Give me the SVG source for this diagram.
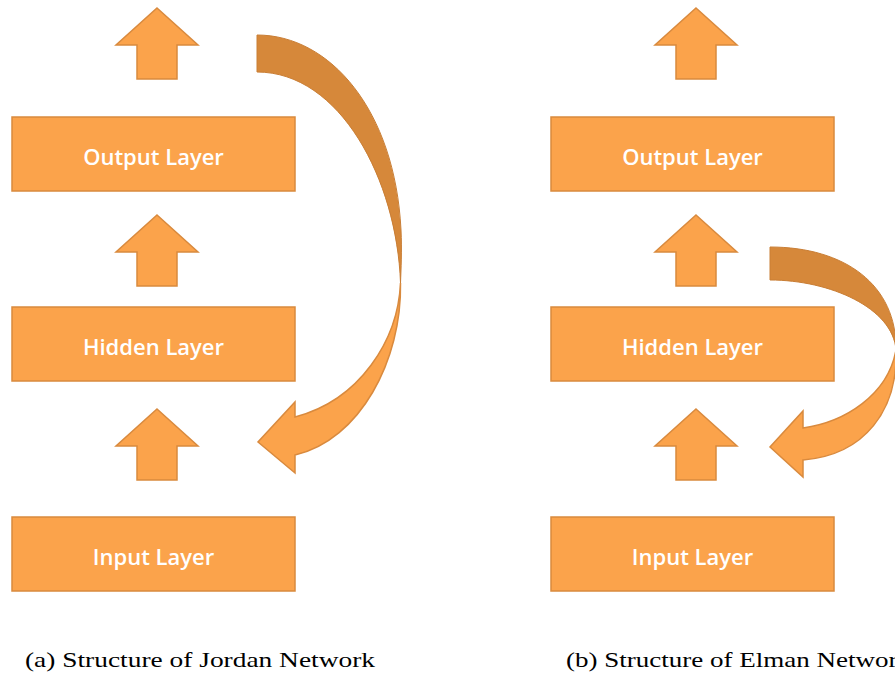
<svg xmlns="http://www.w3.org/2000/svg" width="895" height="675" viewBox="0 0 895 675">
<defs>
<style>
.box{fill:#FBA34B;stroke:#D98A3E;stroke-width:1.5}
.up{fill:#FBA34B;stroke:#D98A3E;stroke-width:1.5;stroke-linejoin:miter}
.lbl{font-family:"Open Sans","Liberation Sans",sans-serif;font-size:22px;font-weight:600;fill:#FFFFFF;text-anchor:middle}
.cap{font-family:"Liberation Serif","DejaVu Serif",serif;font-size:21px;fill:#000000}
.dark{fill:#D6883A;stroke:#C97E35;stroke-width:1}
.light{fill:#FBA34B;stroke:#D98A3E;stroke-width:1.5;stroke-linejoin:miter}
</style>
<path id="uparrow" d="M0,0 L41,37 L20,37 L20,71 L-20,71 L-20,37 L-41,37 Z"/>
</defs>
<rect width="895" height="675" fill="#FFFFFF"/>

<g id="jordan-output"><rect class="box" x="12" y="117" width="283" height="74"/><text class="lbl" x="153.5" y="165">Output Layer</text></g>
<g id="jordan-hidden"><rect class="box" x="12" y="307" width="283" height="74"/><text class="lbl" x="153.5" y="355">Hidden Layer</text></g>
<g id="jordan-input"><rect class="box" x="12" y="517" width="283" height="74"/><text class="lbl" x="153.5" y="565">Input Layer</text></g>

<g id="elman-output"><rect class="box" x="551" y="117" width="283" height="74"/><text class="lbl" x="692.5" y="165">Output Layer</text></g>
<g id="elman-hidden"><rect class="box" x="551" y="307" width="283" height="74"/><text class="lbl" x="692.5" y="355">Hidden Layer</text></g>
<g id="elman-input"><rect class="box" x="551" y="517" width="283" height="74"/><text class="lbl" x="692.5" y="565">Input Layer</text></g>

<g id="connectors">
<use href="#uparrow" class="up" transform="translate(157,8)"/>
<use href="#uparrow" class="up" transform="translate(157,215)"/>
<use href="#uparrow" class="up" transform="translate(157,409)"/>
<use href="#uparrow" class="up" transform="translate(696,8)"/>
<use href="#uparrow" class="up" transform="translate(696,215)"/>
<use href="#uparrow" class="up" transform="translate(696,409)"/>

<g id="jordan-feedback">
<path class="dark" d="M257,35 C330,35 395,110 401,230 C402,250 401,270 400.5,283 C397,180 340,72 257,72 Z"/>
<path class="light" d="M400.5,283 C398,340 360,400 295,417 L295,402 L258,442 L295,473 L295,455 C360,440 402,360 400.5,283 Z"/>
</g>
<g id="elman-feedback">
<path class="dark" d="M770,247 C845,247 897,285 896,350 C893,308 830,280 770,280 Z"/>
<path class="light" d="M896,350 C888,395 845,422 803,428 L803,411 L770,447 L803,477 L803,460 C865,455 898,410 896,350 Z"/>
</g>
</g>

<text class="cap" x="25" y="667" textLength="350" lengthAdjust="spacingAndGlyphs">(a) Structure of Jordan Network</text>
<text class="cap" x="566" y="667" textLength="345" lengthAdjust="spacingAndGlyphs">(b) Structure of Elman Network</text>
</svg>
